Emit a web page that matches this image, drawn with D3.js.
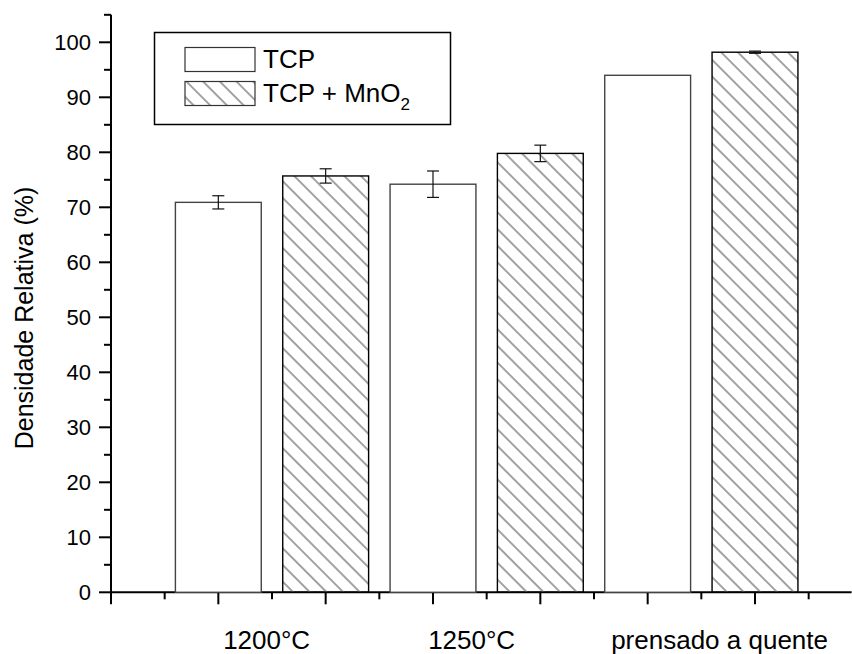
<!DOCTYPE html>
<html>
<head>
<meta charset="utf-8">
<script src="https://cdn.jsdelivr.net/npm/d3@7"></script>
<style>
    body { margin: 0; background: #fff; }
    svg { display: block; font-family: Arial, 'Liberation Sans', sans-serif; }
</style>
</head>
<body>
<svg id="chart"></svg>
<script>
const categories = ['1200°C', '1250°C', 'prensado a quente']
const seriesNames = ['TCP', 'TCP + MnO2']
const tcpValues = [70.9, 74.2, 94.0]
const tcpErrors = [1.2, 2.4, 0]
const mnoValues = [75.7, 79.8, 98.2]
const mnoErrors = [1.3, 1.5, 0.2]
// category label positions on the x axis (read off the picture, not centred)
const labelPositions = [1.45, 3.36, 5.67]
const yTicks = [0, 10, 20, 30, 40, 50, 60, 70, 80, 90, 100]

class DensityChart {
    constructor(_svgId) {
        this.svg = d3.select('#' + _svgId)
        this.width = 852
        this.height = 654
        this.svg.attr('width', this.width).attr('height', this.height)

        this.structureData()
        this.calcGeoms()
        this.makePattern()
        this.drawAxes()
        this.drawBars()
        this.drawLegend()
    }
    structureData() {
        // each group holds one TCP bar and one TCP + MnO2 bar side by side
        this.bars = []
        categories.forEach((c, i) => {
            this.bars.push({ pos: 2 * i + 1, value: tcpValues[i], err: tcpErrors[i], series: 0 })
            this.bars.push({ pos: 2 * i + 2, value: mnoValues[i], err: mnoErrors[i], series: 1 })
        })
    }
    calcGeoms() {
        this.x = d3.scaleLinear().domain([0, 6.9]).range([111, 851.6])
        this.y = d3.scaleLinear().domain([0, 105]).range([592.3, 14.8])
        this.barWidth = 0.8
    }
    makePattern() {
        let defs = this.svg.append('defs')
        defs.append('pattern')
            .attr('id', 'hatch')
            .attr('patternUnits', 'userSpaceOnUse')
            .attr('width', 11.8)
            .attr('height', 11.8)
            .attr('patternTransform', 'rotate(-45)')
            .append('line')
            .attr('x1', 1).attr('y1', 0)
            .attr('x2', 1).attr('y2', 11.8)
            .style('stroke', '#7a7a7a')
            .style('stroke-width', 1.4)
    }
    drawAxes() {
        let x = this.x
        let y = this.y

        let yMinor = d3.range(5, 106, 10)
        let yAxis = this.svg.append('g').attr('transform', 'translate(' + x(0) + ',0)')
        yAxis.append('line')
            .attr('y1', y(0)).attr('y2', y(105))
            .style('stroke', '#000').style('stroke-width', 2)
        yAxis.selectAll('.major').data(yTicks).join('line')
            .attr('class', 'major')
            .attr('x1', -12).attr('x2', 0)
            .attr('y1', d => y(d)).attr('y2', d => y(d))
            .style('stroke', '#000').style('stroke-width', 2)
        yAxis.selectAll('.minor').data(yMinor).join('line')
            .attr('class', 'minor')
            .attr('x1', -7).attr('x2', 0)
            .attr('y1', d => y(d)).attr('y2', d => y(d))
            .style('stroke', '#000').style('stroke-width', 2)
        yAxis.selectAll('text').data(yTicks).join('text')
            .attr('x', -20)
            .attr('y', d => y(d))
            .attr('dy', '0.36em')
            .attr('text-anchor', 'end')
            .style('font-size', '22px')
            .text(d => d)

        let xMajor = d3.range(0, 7)
        let xMinor = d3.range(0.5, 7, 1)
        let xAxis = this.svg.append('g').attr('transform', 'translate(0,' + y(0) + ')')
        xAxis.append('line')
            .attr('x1', x(0) - 1).attr('x2', x(6.9))
            .style('stroke', '#000').style('stroke-width', 2)
        xAxis.selectAll('.major').data(xMajor).join('line')
            .attr('class', 'major')
            .attr('x1', d => x(d)).attr('x2', d => x(d))
            .attr('y1', 0).attr('y2', 12)
            .style('stroke', '#000').style('stroke-width', 2)
        xAxis.selectAll('.minor').data(xMinor).join('line')
            .attr('class', 'minor')
            .attr('x1', d => x(d)).attr('x2', d => x(d))
            .attr('y1', 0).attr('y2', 7)
            .style('stroke', '#000').style('stroke-width', 2)
        xAxis.selectAll('text').data(categories).join('text')
            .attr('x', (d, i) => x(labelPositions[i]))
            .attr('y', 57)
            .attr('text-anchor', 'middle')
            .style('font-size', '26px')
            .text(d => d)

        this.svg.append('text')
            .attr('transform', 'translate(33,318) rotate(-90)')
            .attr('text-anchor', 'middle')
            .style('font-size', '25px')
            .text('Densidade Relativa (%)')
    }
    drawBars() {
        let x = this.x
        let y = this.y
        let w = this.barWidth
        let bars = this.svg.append('g').attr('class', 'bars')
        bars.selectAll('rect').data(this.bars).join('rect')
            .attr('x', d => x(d.pos - w / 2))
            .attr('y', d => y(d.value))
            .attr('width', x(w) - x(0))
            .attr('height', d => y(0) - y(d.value))
            .style('fill', d => d.series === 0 ? '#fff' : 'url(#hatch)')
            .style('stroke', d => d.series === 0 ? '#444' : '#000')
            .style('stroke-width', 1.4)

        let errs = this.svg.append('g').attr('class', 'errors')
            .selectAll('g').data(this.bars.filter(d => d.err > 0)).join('g')
        errs.append('line')
            .attr('x1', d => x(d.pos)).attr('x2', d => x(d.pos))
            .attr('y1', d => y(d.value - d.err)).attr('y2', d => y(d.value + d.err))
        errs.append('line')
            .attr('x1', d => x(d.pos) - 6).attr('x2', d => x(d.pos) + 6)
            .attr('y1', d => y(d.value - d.err)).attr('y2', d => y(d.value - d.err))
        errs.append('line')
            .attr('x1', d => x(d.pos) - 6).attr('x2', d => x(d.pos) + 6)
            .attr('y1', d => y(d.value + d.err)).attr('y2', d => y(d.value + d.err))
        errs.selectAll('line').style('stroke', '#111').style('stroke-width', 1.2)
    }
    drawLegend() {
        let legend = this.svg.append('g').attr('class', 'legend')
        legend.append('rect')
            .attr('x', 154.5).attr('y', 32.5)
            .attr('width', 296).attr('height', 92)
            .style('fill', '#fff').style('stroke', '#000').style('stroke-width', 1.5)

        let rows = legend.selectAll('g').data(seriesNames).join('g')
            .attr('transform', (d, i) => 'translate(185,' + (47.5 + i * 34) + ')')
        rows.append('rect')
            .attr('width', 70).attr('height', 24)
            .style('fill', (d, i) => i === 0 ? '#fff' : 'url(#hatch)')
            .style('stroke', '#333').style('stroke-width', 1.2)
        let labels = rows.append('text')
            .attr('x', 78).attr('y', 20)
            .style('font-size', '26px')
        labels.each(function (d) {
            let t = d3.select(this)
            let m = d.match(/^(.*)O2$/)
            if (m) {
                t.append('tspan').text(m[1] + 'O')
                t.append('tspan').attr('dy', 8).style('font-size', '17px').text('2')
            } else {
                t.text(d)
            }
        })
    }
}

new DensityChart('chart')
</script>
</body>
</html>
